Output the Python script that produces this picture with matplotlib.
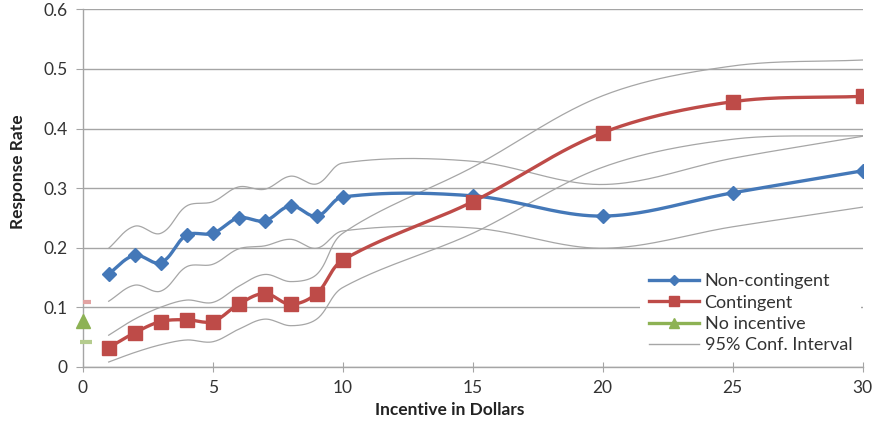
import numpy as np
import matplotlib
matplotlib.use("Agg")
import matplotlib.pyplot as plt
from matplotlib.lines import Line2D

# ---------------- data ----------------
incentive = [1, 2, 3, 4, 5, 6, 7, 8, 9, 10, 15, 20, 25, 30]
non_contingent = [0.156, 0.187, 0.175, 0.221, 0.224, 0.250, 0.245, 0.270, 0.253, 0.285, 0.287, 0.253, 0.292, 0.329]
contingent = [0.032, 0.057, 0.076, 0.079, 0.076, 0.105, 0.123, 0.105, 0.123, 0.179, 0.277, 0.393, 0.445, 0.454]
nc_upper = [0.199, 0.236, 0.224, 0.270, 0.277, 0.302, 0.298, 0.320, 0.307, 0.342, 0.345, 0.306, 0.350, 0.387]
nc_lower = [0.110, 0.137, 0.127, 0.168, 0.172, 0.198, 0.203, 0.214, 0.199, 0.228, 0.233, 0.199, 0.235, 0.268]
c_upper = [0.053, 0.080, 0.100, 0.112, 0.108, 0.135, 0.155, 0.143, 0.155, 0.224, 0.335, 0.455, 0.505, 0.515]
c_lower = [0.008, 0.024, 0.037, 0.045, 0.042, 0.063, 0.080, 0.069, 0.080, 0.133, 0.224, 0.335, 0.382, 0.388]
no_incentive_x = [0]
no_incentive = [0.077]
no_incentive_lower = [0.041]
no_incentive_upper = [0.108]

x_ticks = [0, 5, 10, 15, 20, 25, 30]
y_ticks = [0, 0.1, 0.2, 0.3, 0.4, 0.5, 0.6]
y_tick_labels = ["0", "0.1", "0.2", "0.3", "0.4", "0.5", "0.6"]

# ---------------- style ----------------
plt.rcParams['font.family'] = ['Lato', 'DejaVu Sans']
BLUE = '#4478b8'
RED = '#be4b48'
GREEN = '#8db254'
GRAY = '#a6a6a6'
GRID = '#a5a5a5'
TXT = '#333333'

fig = plt.figure(figsize=(8.74, 4.26), dpi=100)
ax = fig.add_axes([0.0946, 0.139, 0.8924, 0.839])
ax.set_xlim(0, 30)
ax.set_ylim(0, 0.6)


def smooth(xs, ys, n=40):
    """Excel-style smoothed line (chord-weighted cardinal Bezier) in screen space."""
    bbox = ax.get_window_extent()
    sx = bbox.width / 30.0
    sy = bbox.height / 0.6
    P = np.column_stack([np.asarray(xs, float) * sx, np.asarray(ys, float) * sy])
    m = len(P)

    def tangent(i):
        a = P[max(i - 1, 0)]
        b = P[min(i + 1, m - 1)]
        d = b - a
        nd = np.linalg.norm(d)
        return d / nd if nd > 0 else d

    out = []
    for i in range(m - 1):
        p1 = P[i]
        p2 = P[i + 1]
        L = np.linalg.norm(p2 - p1)
        c1 = p1 + tangent(i) * L / 3.0
        c2 = p2 - tangent(i + 1) * L / 3.0
        t = np.linspace(0, 1, n, endpoint=(i == m - 2))[:, None]
        seg = (1 - t) ** 3 * p1 + 3 * (1 - t) ** 2 * t * c1 + 3 * (1 - t) * t ** 2 * c2 + t ** 3 * p2
        out.append(seg)
    out = np.vstack(out)
    return out[:, 0] / sx, out[:, 1] / sy


# confidence intervals
for series in (nc_upper, nc_lower, c_upper, c_lower):
    sx_, sy_ = smooth(incentive, series)
    ax.plot(sx_, sy_, color=GRAY, lw=0.9, zorder=2)

# main series
bx, by = smooth(incentive, non_contingent)
ax.plot(bx, by, color=BLUE, lw=2.4, zorder=3, solid_capstyle='round')
ax.plot(incentive, non_contingent, ls='none', marker='D', ms=6.8, color=BLUE, zorder=4)

rx, ry = smooth(incentive, contingent)
ax.plot(rx, ry, color=RED, lw=2.4, zorder=3, solid_capstyle='round')
ax.plot(incentive, contingent, ls='none', marker='s', ms=10, color=RED, zorder=4)

# no incentive
ax.plot(no_incentive_x, no_incentive, ls='none', marker='^', ms=9.5, color=GREEN, zorder=5, clip_on=False)
ax.plot([x + 0.12 for x in no_incentive_x], no_incentive_lower, ls='none', marker='_', ms=9,
        mew=3, color='#b5cc8e', zorder=5, clip_on=False)
ax.plot([x + 0.17 for x in no_incentive_x], no_incentive_upper, ls='none', marker='_', ms=6,
        mew=3, color='#e2a3a2', zorder=5, clip_on=False)

# axes styling
ax.set_xticks(x_ticks)
ax.set_yticks(y_ticks)
ax.set_yticklabels(y_tick_labels)
ax.yaxis.grid(True, color=GRID, lw=1.0)
ax.set_axisbelow(True)
for s in ('top', 'right'):
    ax.spines[s].set_visible(False)
for s in ('left', 'bottom'):
    ax.spines[s].set_color(GRID)
    ax.spines[s].set_linewidth(1.0)
ax.tick_params(axis='y', direction='out', length=5, color=GRID, labelsize=12.5, labelcolor=TXT, pad=6)
ax.tick_params(axis='x', direction='inout', length=7, color=GRID, labelsize=12.5, labelcolor=TXT, pad=6)

fig.text(0.515, 0.037, 'Incentive in Dollars', ha='center', va='center', fontsize=12.5,
         fontweight='bold', color='#222222')
fig.text(0.021, 0.597, 'Response Rate', ha='center', va='center', rotation=90, fontsize=12.5,
         fontweight='bold', color='#222222')

handles = [
    Line2D([], [], color=BLUE, lw=2.4, marker='D', ms=5),
    Line2D([], [], color=RED, lw=2.4, marker='s', ms=7),
    Line2D([], [], color=GREEN, lw=2.4, marker='^', ms=7),
    Line2D([], [], color=GRAY, lw=1.0),
]
labels = ['Non-contingent', 'Contingent', 'No incentive', '95% Conf. Interval']
leg = ax.legend(handles, labels, loc='lower left', bbox_to_anchor=(0.714, 0.012),
                frameon=True, fancybox=False, framealpha=1, facecolor='white', edgecolor='none',
                fontsize=13, handlelength=2.8, handletextpad=0.3, labelspacing=0.3,
                borderpad=0.5, borderaxespad=0)
for t in leg.get_texts():
    t.set_color(TXT)

fig.savefig('out.png', dpi=100)
